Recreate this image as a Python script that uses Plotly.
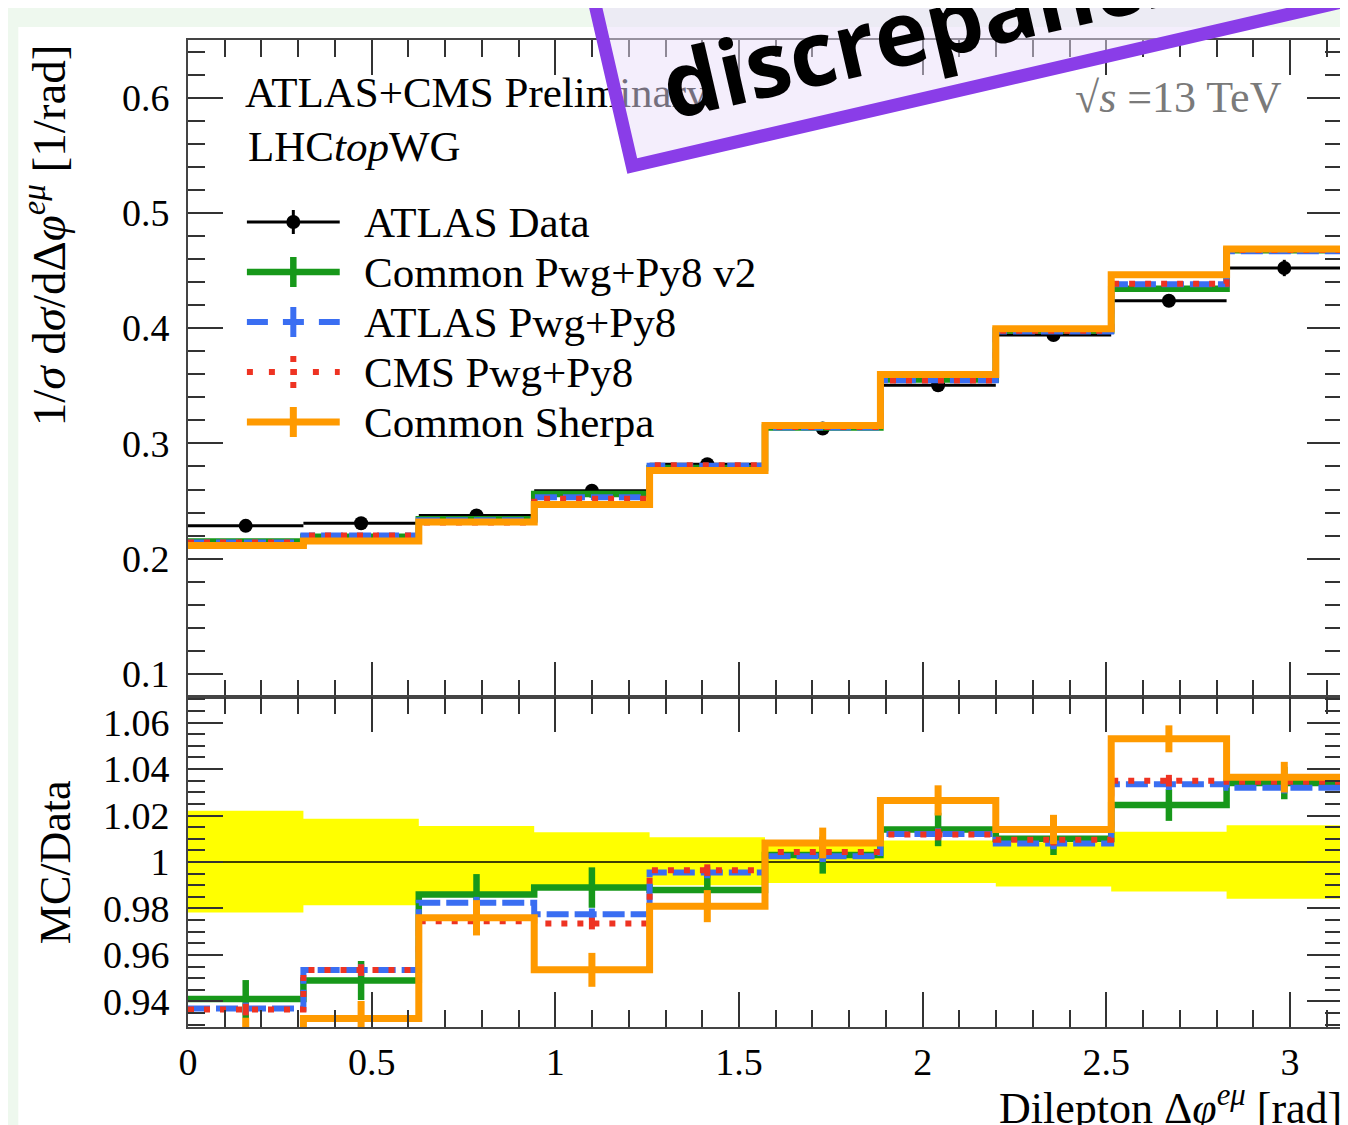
import math
import plotly.graph_objects as go

# ------------------------------------------------------------------ data
bin_edges = [0.0, 0.3142, 0.6283, 0.9425, 1.2566, 1.5708, 1.8850, 2.1991, 2.5133, 2.8274, 3.1416]

data_vals = [0.2285, 0.2308, 0.2375, 0.2590, 0.2820, 0.3130, 0.3505, 0.3940, 0.4238, 0.4522]
data_err = [0.0050, 0.0043, 0.0037, 0.0033, 0.0030, 0.0030, 0.0032, 0.0036, 0.0054, 0.0071]

green_top = [0.2150, 0.2190, 0.2342, 0.2562, 0.2786, 0.3139, 0.3554, 0.3979, 0.4342, 0.4676]
blue_top = [0.2141, 0.2201, 0.2333, 0.2532, 0.2807, 0.3138, 0.3547, 0.3972, 0.4380, 0.4667]
red_top = [0.2140, 0.2201, 0.2314, 0.2521, 0.2810, 0.3143, 0.3546, 0.3978, 0.4386, 0.4678]
orange_top = [0.2114, 0.2153, 0.2318, 0.2470, 0.2766, 0.3156, 0.3598, 0.3995, 0.4463, 0.4687]

green_ratio = [0.941, 0.949, 0.986, 0.989, 0.988, 1.003, 1.014, 1.010, 1.0245, 1.034]
blue_ratio = [0.937, 0.9535, 0.9825, 0.9775, 0.9955, 1.0025, 1.012, 1.008, 1.0335, 1.032]
red_ratio = [0.9365, 0.9535, 0.9745, 0.9735, 0.9965, 1.0043, 1.0118, 1.0096, 1.035, 1.0345]
orange_ratio = [0.925, 0.9327, 0.976, 0.9536, 0.981, 1.0082, 1.0265, 1.014, 1.053, 1.0365]

green_rerr = [0.0082, 0.0084, 0.0088, 0.0087, 0.0080, 0.0080, 0.0072, 0.0070, 0.0068, 0.0070]
blue_rerr = [0.0025] * 10
red_rerr = [0.0025] * 10
orange_rerr = [0.0080, 0.0075, 0.0076, 0.0073, 0.0069, 0.0066, 0.0065, 0.0063, 0.0058, 0.0066]

data_ratio = [1.0] * 10
band_up = [0.0220, 0.0186, 0.0155, 0.0128, 0.0107, 0.0095, 0.0092, 0.0085, 0.0130, 0.0158]
band_down = [0.0217, 0.0186, 0.0140, 0.0115, 0.0100, 0.0090, 0.0090, 0.0105, 0.0127, 0.0158]

legend_names = ["ATLAS Data", "Common Pwg+Py8 v2", "ATLAS Pwg+Py8", "CMS Pwg+Py8", "Common Sherpa"]
x_tickvals = [0, 0.5, 1, 1.5, 2, 2.5, 3]
x_ticktext = ["0", "0.5", "1", "1.5", "2", "2.5", "3"]

# ------------------------------------------------------------------ geometry helpers
# page has an 8px body margin; figure is sized so it fits the 1348x1125 window
OFF = 8
W, H = 1340, 1117
ML, MR, MT, MB = 180, 4, 32, 98
PW, PH = W - ML - MR, H - MT - MB


def px(x_page):
    return (x_page - OFF - ML) / PW


def py(y_page):
    return (H - MB - (y_page - OFF)) / PH


split = py(697)

GREEN = "#17981a"
BLUE = "#3a6ef2"
RED = "#ee3322"
ORANGE = "#ff9a00"
SERIF = "Liberation Serif"

centers = [(a + b) / 2 for a, b in zip(bin_edges[:-1], bin_edges[1:])]
halfw = [(b - a) / 2 for a, b in zip(bin_edges[:-1], bin_edges[1:])]


def steps(v):
    return list(v) + [v[-1]]


fig = go.Figure()

# ------------------------------------------------------------------ top panel
fig.add_trace(go.Scatter(
    x=centers, y=data_vals, mode="markers", xaxis="x", yaxis="y",
    marker=dict(color="black", size=14),
    error_x=dict(type="data", array=halfw, color="black", thickness=3, width=0),
    error_y=dict(type="data", array=data_err, color="black", thickness=3, width=0),
    showlegend=False))

mc_styles = [
    (green_top, green_ratio, green_rerr, GREEN, 6.5, "solid"),
    (blue_top, blue_ratio, blue_rerr, BLUE, 6, "22px,6px"),
    (red_top, red_ratio, red_rerr, RED, 6, "6px,10px"),
    (orange_top, orange_ratio, orange_rerr, ORANGE, 7, "solid"),
]
for top, rat, rerr, col, lw, dash in mc_styles:
    fig.add_trace(go.Scatter(
        x=bin_edges, y=steps(top), mode="lines", xaxis="x", yaxis="y",
        line=dict(shape="hv", color=col, width=lw, dash=dash), showlegend=False))

# header text drawn as a text trace so the overlay box covers it
fig.add_trace(go.Scatter(
    x=[(245 - 188) / 368.0], y=[0.6015], mode="text", xaxis="x", yaxis="y",
    text=["ATLAS+CMS Preliminary"], textposition="middle right",
    textfont=dict(family=SERIF, size=43, color="black"), showlegend=False,
    cliponaxis=False))

# ------------------------------------------------------------------ ratio panel
fig.add_trace(go.Scatter(
    x=bin_edges, y=steps([1 - d for d in band_down]), mode="lines", xaxis="x2", yaxis="y2",
    line=dict(shape="hv", width=0, color="#ffff00"), showlegend=False))
fig.add_trace(go.Scatter(
    x=bin_edges, y=steps([1 + u for u in band_up]), mode="lines", xaxis="x2", yaxis="y2",
    line=dict(shape="hv", width=0, color="#ffff00"), fill="tonexty", fillcolor="#ffff00",
    showlegend=False))
fig.add_trace(go.Scatter(
    x=bin_edges, y=steps(data_ratio), mode="lines", xaxis="x2", yaxis="y2",
    line=dict(shape="hv", width=1.5, color="black"), showlegend=False))

for top, rat, rerr, col, lw, dash in mc_styles:
    fig.add_trace(go.Scatter(
        x=bin_edges, y=steps(rat), mode="lines", xaxis="x2", yaxis="y2",
        line=dict(shape="hv", color=col, width=lw, dash=dash), showlegend=False))
    fig.add_trace(go.Scatter(
        x=centers, y=rat, mode="markers", xaxis="x2", yaxis="y2",
        marker=dict(size=1, color=col, opacity=0),
        error_y=dict(type="data", array=rerr, color=col, thickness=lw, width=0),
        showlegend=False))

# ------------------------------------------------------------------ axes
tick_common = dict(ticks="inside", tickwidth=1.5, tickcolor="#333", ticklen=35,
                   showline=True, linecolor="#444", linewidth=2, mirror="ticks",
                   showgrid=False, zeroline=False,
                   tickfont=dict(family=SERIF, size=38, color="black"))
minor_x = dict(ticks="inside", dtick=0.1, tick0=0, ticklen=17, tickwidth=1.5, tickcolor="#333")

fig.update_layout(
    xaxis=dict(domain=[0, 1], anchor="y", range=[0, 3.1416], tickmode="linear", tick0=0, dtick=0.5,
               showticklabels=False, minor=minor_x, **tick_common),
    yaxis=dict(domain=[split, 1], anchor="x", range=[0.08, 0.65], tickmode="linear", tick0=0, dtick=0.1,
               ticklabelstandoff=9,
               minor=dict(ticks="inside", dtick=0.02, tick0=0, ticklen=17, tickwidth=1.5, tickcolor="#333"),
               **tick_common),
    xaxis2=dict(domain=[0, 1], anchor="y2", range=[0, 3.1416], matches="x",
                tickmode="array", tickvals=x_tickvals, ticktext=x_ticktext, ticklabelstandoff=0,
                minor=minor_x, **tick_common),
    yaxis2=dict(domain=[0, split], anchor="x2", range=[0.929, 1.071], tickmode="linear", tick0=1, dtick=0.02,
                ticklabelstandoff=9,
                minor=dict(ticks="inside", dtick=0.005, tick0=1, ticklen=17, tickwidth=1.5, tickcolor="#333"),
                **tick_common),
)

# ------------------------------------------------------------------ shapes: backgrounds, legend, overlay
shapes = []
shapes.append(dict(type="rect", xref="paper", yref="paper", layer="below",
                   x0=px(18), x1=px(1400), y0=py(1200), y1=py(27),
                   fillcolor="white", line=dict(width=0)))

legend_y = [222, 272, 322, 372, 422]
legend_cols = ["black", GREEN, BLUE, RED, ORANGE]
legend_w = [3, 6.5, 6, 6, 7]
legend_dash = ["solid", "solid", "21px,15px", "6px,16px", "solid"]
legend_half = [12, 15, 15, 16, 15]
annotations = []
for name, yc, col, lw, dash, hh in zip(legend_names, legend_y, legend_cols, legend_w, legend_dash, legend_half):
    shapes.append(dict(type="line", xref="paper", yref="paper", x0=px(247), x1=px(340), y0=py(yc), y1=py(yc),
                       line=dict(color=col, width=lw, dash=dash)))
    shapes.append(dict(type="line", xref="paper", yref="paper", x0=px(293.5), x1=px(293.5),
                       y0=py(yc - hh), y1=py(yc + hh),
                       line=dict(color=col, width=lw, dash="6px,7px" if dash.startswith("6px") else "solid")))
    if col == "black":
        shapes.append(dict(type="circle", xref="paper", yref="paper", x0=px(286.5), x1=px(300.5),
                           y0=py(yc - 7), y1=py(yc + 7), fillcolor="black", line=dict(width=0)))
    annotations.append(dict(text=name, x=px(362), y=py(yc), xref="paper", yref="paper",
                            xanchor="left", yanchor="middle", showarrow=False,
                            font=dict(family=SERIF, size=43, color="black")))

# rotated overlay box (border centre line), page coordinates
ang = math.radians(13)
ux, uy = math.cos(ang), -math.sin(ang)
vx, vy = -math.sin(ang), -math.cos(ang)
cx, cy = 633, 166
BW, BH = 900, 300
corners = [(cx, cy), (cx + BW * ux, cy + BW * uy), (cx + BW * ux + BH * vx, cy + BW * uy + BH * vy),
           (cx + BH * vx, cy + BH * vy)]
path = "M " + " L ".join(f"{px(a):.5f},{py(b):.5f}" for a, b in corners) + " Z"
shapes.append(dict(type="path", path=path, xref="paper", yref="paper", layer="above",
                   fillcolor="rgba(233,221,249,0.5)", line=dict(color="#8a3de8", width=13)))

annotations += [
    dict(text="LHC<i>top</i>WG", x=px(246), y=py(147), xref="paper", yref="paper",
         xanchor="left", yanchor="middle", showarrow=False,
         font=dict(family=SERIF, size=43, color="black")),
    dict(text="√<i>s</i> =13 TeV", x=px(1286), y=py(97), xref="paper", yref="paper",
         xanchor="right", yanchor="middle", showarrow=False,
         font=dict(family=SERIF, size=44, color="#7a7a7a")),
    dict(text="1/<i>σ</i> d<i>σ</i>/dΔ<i>φ</i><sup><i>eμ</i></sup> [1/rad]", x=px(45), y=py(235),
         xref="paper", yref="paper", xanchor="center", yanchor="middle", textangle=-90, showarrow=False,
         font=dict(family=SERIF, size=47, color="black")),
    dict(text="MC/Data", x=px(55), y=py(862), xref="paper", yref="paper",
         xanchor="center", yanchor="middle", textangle=-90, showarrow=False,
         font=dict(family=SERIF, size=44, color="black")),
    dict(text="Dilepton Δ<i>φ</i><sup><i>eμ</i></sup> [rad]", x=px(1346), y=py(1105), xref="paper", yref="paper",
         xanchor="right", yanchor="middle", showarrow=False,
         font=dict(family=SERIF, size=44, color="black")),
    dict(text="<b>discrepancies</b>", x=px(962), y=py(17), xref="paper", yref="paper",
         xanchor="center", yanchor="middle", textangle=-13, showarrow=False,
         font=dict(family="Open Sans", size=90, color="black")),
]

fig.update_layout(
    width=W, height=H, autosize=False,
    margin=dict(l=ML, r=MR, t=MT, b=MB, pad=0),
    paper_bgcolor="#eef8ee", plot_bgcolor="white",
    showlegend=False,
    shapes=shapes, annotations=annotations,
    font=dict(family=SERIF, color="black"),
)

fig.write_html("out.html")
